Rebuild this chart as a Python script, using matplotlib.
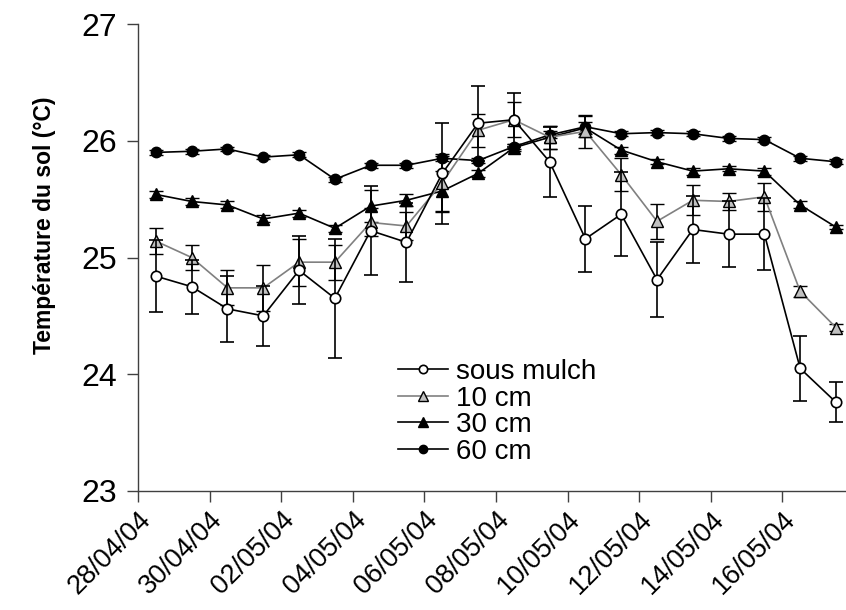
import matplotlib
matplotlib.use("Agg")
import matplotlib.pyplot as plt
from matplotlib.lines import Line2D
import numpy as np
import pandas as pd
import matplotlib.dates as mdates

plt.rcParams['font.family'] = ['Liberation Sans', 'DejaVu Sans']

# ---- data ----
dates = pd.date_range('2004-04-28 12:00', periods=20, freq='D')

sous_mulch = [24.84, 24.75, 24.56, 24.50, 24.89, 24.65, 25.23, 25.13, 25.72, 26.15,
              26.18, 25.82, 25.16, 25.37, 24.81, 25.24, 25.20, 25.20, 24.05, 23.76]
sous_mulch_err = [0.31, 0.23, 0.28, 0.26, 0.29, 0.51, 0.38, 0.34, 0.43, 0.32,
                  0.23, 0.30, 0.28, 0.36, 0.32, 0.29, 0.28, 0.31, 0.28, 0.17]

cm10 = [25.14, 25.00, 24.74, 24.74, 24.96, 24.96, 25.30, 25.27, 25.64, 26.09,
        26.18, 26.03, 26.08, 25.71, 25.31, 25.49, 25.48, 25.52, 24.71, 24.40]
cm10_err = [0.11, 0.11, 0.15, 0.20, 0.20, 0.15, 0.12, 0.12, 0.25, 0.14,
            0.15, 0.10, 0.14, 0.14, 0.15, 0.13, 0.07, 0.12, 0.05, 0.03]

cm30 = [25.54, 25.48, 25.45, 25.33, 25.38, 25.25, 25.44, 25.49, 25.57, 25.72,
        25.94, 26.03, 26.11, 25.92, 25.82, 25.74, 25.76, 25.74, 25.45, 25.26]
cm30_err = [0.03, 0.03, 0.03, 0.03, 0.03, 0.03, 0.14, 0.05, 0.17, 0.03,
            0.03, 0.10, 0.05, 0.03, 0.02, 0.03, 0.02, 0.03, 0.03, 0.02]

cm60 = [25.90, 25.91, 25.93, 25.86, 25.88, 25.67, 25.79, 25.79, 25.85, 25.83,
        25.95, 26.05, 26.12, 26.06, 26.07, 26.06, 26.02, 26.01, 25.85, 25.82]
cm60_err = [0.02, 0.02, 0.02, 0.02, 0.02, 0.02, 0.02, 0.02, 0.02, 0.02,
            0.02, 0.03, 0.09, 0.02, 0.02, 0.02, 0.02, 0.02, 0.02, 0.02]

tick_dates = pd.date_range('2004-04-28', '2004-05-16', freq='2D')
tick_labels = [d.strftime('%d/%m/%y') for d in tick_dates]

# ---- figure ----
W, H = 846, 610
fig = plt.figure(figsize=(W / 100, H / 100), dpi=100)
ax = fig.add_axes([138 / W, 1 - 491 / H, (846 - 138) / W, (491 - 24) / H])

lw = 1.2
cap = 4.7
common = dict(capsize=cap, elinewidth=1.2, capthick=1.2, ecolor='black', lw=lw)

styles = {
    'sous mulch': dict(color='black', marker='o', mfc='white', mec='black', mew=1.2, ms=7.5),
    '10 cm': dict(color='#808080', marker='^', mfc='#c0c0c0', mec='black', mew=1.0, ms=8.5),
    '30 cm': dict(color='black', marker='^', mfc='black', mec='black', mew=1.0, ms=8.5),
    '60 cm': dict(color='black', marker='o', mfc='black', mec='black', mew=1.0, ms=7.5),
}

ax.errorbar(dates, cm60, yerr=cm60_err, zorder=2, **styles['60 cm'], **common)
ax.errorbar(dates, cm30, yerr=cm30_err, zorder=3, **styles['30 cm'], **common)
ax.errorbar(dates, cm10, yerr=cm10_err, zorder=4, **styles['10 cm'], **common)
ax.errorbar(dates, sous_mulch, yerr=sous_mulch_err, zorder=5, **styles['sous mulch'], **common)

x0 = mdates.date2num(pd.Timestamp('2004-04-28'))
ax.set_xlim(x0, x0 + 19.78)
ax.set_ylim(23, 27)
ax.set_yticks([23, 24, 25, 26, 27])
ax.set_xticks(mdates.date2num(tick_dates))
ax.set_xticklabels(tick_labels, rotation=45, ha='right', rotation_mode='anchor', fontsize=19.5)
ax.tick_params(axis='y', labelsize=23, length=8, width=1, color='#404040', pad=7)
ax.tick_params(axis='x', length=8, width=1, color='#404040', pad=3)

for s in ['top', 'right']:
    ax.spines[s].set_visible(False)
for s in ['left', 'bottom']:
    ax.spines[s].set_color('#404040')
    ax.spines[s].set_linewidth(1)

fig.text(45 / W, 1 - 225 / H, 'Température du sol (°C)', rotation=90, fontsize=16.5,
         fontweight='bold', ha='center', va='center')

names = ['sous mulch', '10 cm', '30 cm', '60 cm']
handles = []
for n in names:
    st = dict(styles[n])
    st['ms'] = st['ms'] - 1.5
    handles.append(Line2D([], [], lw=lw, **st))
leg = ax.legend(handles, names,
                loc='upper left', bbox_to_anchor=(398 / W, 1 - 359 / H), bbox_transform=fig.transFigure,
                frameon=False, fontsize=20, handlelength=1.8, handletextpad=0.3,
                labelspacing=0.02, borderpad=0, borderaxespad=0)

fig.savefig('out.png', dpi=100)
